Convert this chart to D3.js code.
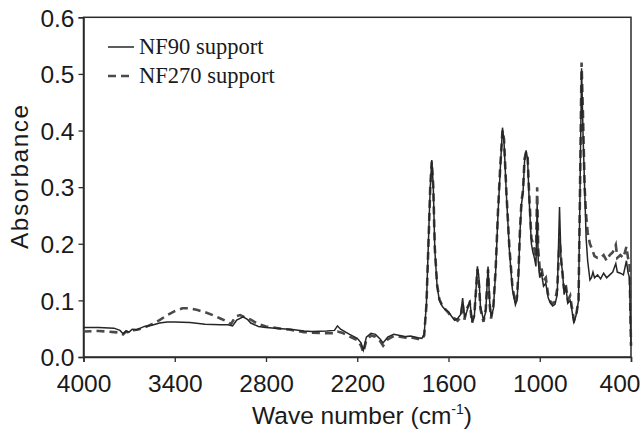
<!DOCTYPE html>
<html><head><meta charset="utf-8">
<script src="https://cdn.jsdelivr.net/npm/d3@7"></script>
<style>body{margin:0;background:#fff}</style>
</head><body>
<svg id="c" width="643" height="432"></svg>
<script>
const xTicks = [4000, 3400, 2800, 2200, 1600, 1000, 400];
const yTicks = [0, 0.1, 0.2, 0.3, 0.4, 0.5, 0.6];
const seriesNames = ["NF90 support", "NF270 support"];

const nf90Wn = [4000,3900,3800,3760,3740,3720,3700,3680,3650,3600,3550,3500,3450,3400,3300,3200,3100,3050,3020,2993,2950,2920,2900,2850,2800,2700,2640,2550,2500,2400,2350,2330,2310,2250,2200,2175,2160,2140,2110,2080,2050,2030,2000,1960,1920,1880,1850,1800,1775,1760,1745,1730,1720,1710,1700,1690,1675,1660,1640,1620,1600,1580,1560,1540,1520,1507,1495,1480,1460,1445,1430,1410,1400,1390,1370,1355,1340,1330,1320,1305,1290,1275,1260,1245,1235,1220,1200,1180,1160,1150,1140,1130,1120,1110,1100,1090,1080,1070,1055,1045,1035,1025,1017,1010,1000,990,975,960,945,930,915,900,885,870,860,850,840,830,815,800,790,775,760,745,735,725,715,705,695,685,670,660,650,640,620,600,580,560,540,520,500,490,470,450,430,420,410,400];
const nf90Abs = [0.052,0.052,0.051,0.047,0.041,0.046,0.044,0.049,0.048,0.054,0.056,0.060,0.062,0.062,0.061,0.058,0.057,0.057,0.055,0.065,0.071,0.066,0.060,0.054,0.052,0.050,0.049,0.046,0.045,0.046,0.047,0.055,0.049,0.040,0.033,0.025,0.012,0.035,0.042,0.040,0.032,0.025,0.035,0.040,0.038,0.036,0.037,0.034,0.033,0.040,0.095,0.220,0.300,0.348,0.300,0.190,0.125,0.100,0.089,0.083,0.080,0.072,0.065,0.068,0.075,0.104,0.070,0.080,0.100,0.062,0.072,0.160,0.140,0.090,0.065,0.080,0.160,0.100,0.071,0.085,0.150,0.250,0.330,0.405,0.380,0.290,0.190,0.120,0.092,0.100,0.140,0.220,0.270,0.290,0.345,0.365,0.350,0.280,0.200,0.185,0.175,0.160,0.270,0.170,0.140,0.150,0.125,0.130,0.105,0.095,0.090,0.093,0.110,0.265,0.170,0.150,0.110,0.125,0.095,0.100,0.085,0.060,0.075,0.100,0.300,0.510,0.390,0.300,0.210,0.170,0.136,0.140,0.150,0.140,0.145,0.138,0.148,0.140,0.145,0.150,0.165,0.150,0.148,0.145,0.170,0.150,0.140,0.020];

const nf270Wn = [4000,3900,3800,3760,3740,3720,3700,3680,3650,3600,3550,3500,3450,3400,3350,3300,3250,3200,3150,3100,3050,3030,3000,2970,2940,2900,2850,2800,2700,2640,2550,2500,2400,2350,2330,2300,2250,2200,2175,2160,2140,2110,2080,2050,2030,2000,1960,1920,1880,1850,1800,1775,1760,1745,1730,1720,1710,1700,1690,1675,1660,1640,1620,1600,1580,1560,1540,1520,1507,1495,1480,1460,1445,1430,1410,1400,1390,1370,1355,1340,1330,1320,1305,1290,1275,1260,1245,1235,1220,1200,1180,1160,1150,1140,1130,1120,1110,1100,1090,1080,1070,1055,1045,1035,1025,1017,1010,1000,990,975,960,945,930,915,900,885,870,860,850,840,830,815,800,790,775,760,745,735,725,715,705,695,685,670,655,640,620,600,580,560,540,520,500,490,470,450,430,420,410,400];
const nf270Abs = [0.045,0.046,0.044,0.043,0.040,0.045,0.043,0.047,0.048,0.052,0.058,0.065,0.074,0.081,0.086,0.086,0.083,0.079,0.074,0.068,0.062,0.058,0.072,0.074,0.070,0.066,0.058,0.054,0.050,0.048,0.044,0.043,0.042,0.042,0.045,0.043,0.036,0.030,0.020,0.008,0.030,0.038,0.036,0.028,0.020,0.031,0.037,0.036,0.034,0.035,0.032,0.031,0.038,0.092,0.215,0.300,0.345,0.300,0.192,0.128,0.102,0.090,0.084,0.078,0.070,0.068,0.064,0.070,0.095,0.066,0.085,0.095,0.060,0.075,0.155,0.130,0.085,0.062,0.085,0.155,0.095,0.068,0.090,0.155,0.255,0.335,0.400,0.385,0.295,0.195,0.125,0.095,0.105,0.150,0.225,0.275,0.295,0.350,0.362,0.355,0.290,0.210,0.200,0.190,0.175,0.300,0.190,0.155,0.160,0.135,0.140,0.110,0.098,0.094,0.098,0.120,0.210,0.175,0.145,0.120,0.130,0.100,0.108,0.090,0.065,0.075,0.100,0.300,0.520,0.420,0.300,0.250,0.220,0.200,0.190,0.178,0.175,0.175,0.180,0.170,0.180,0.185,0.198,0.175,0.180,0.175,0.195,0.175,0.170,0.020];

const svg = d3.select("#c");
const L = 83.5, R = 631, T = 17.3, B = 357;
const x = d3.scaleLinear().domain([4000, 400]).range([L, R]);
const y = d3.scaleLinear().domain([0, 0.6]).range([B, T]);
const ink = "#2b2b2b";
const sans = "'Liberation Sans', Arial, sans-serif";

// frame
svg.append("rect").attr("x", L).attr("y", T).attr("width", R - L).attr("height", B - T)
  .attr("fill", "none").attr("stroke", ink).attr("stroke-width", 1.5);

const xAxis = svg.append("g").attr("transform", `translate(0,${B})`)
  .call(d3.axisBottom(x).tickValues(xTicks).tickSize(5).tickPadding(13).tickFormat(d3.format("d")));
const yAxis = svg.append("g").attr("transform", `translate(${L},0)`)
  .call(d3.axisLeft(y).tickValues(yTicks).tickSize(5).tickPadding(4).tickFormat(d3.format(".1f")));
[xAxis, yAxis].forEach(g => {
  g.select(".domain").attr("stroke", ink).attr("stroke-width", 1.5);
  g.selectAll(".tick line").attr("stroke", ink).attr("stroke-width", 1.3);
  g.selectAll(".tick text").attr("fill", "#1a1a1a")
    .style("font-family", sans).style("font-size", "24.5px");
});
yAxis.selectAll(".tick text").attr("dy", "0.36em");
// last x label kept inside the canvas
xAxis.selectAll(".tick").filter(d => d === 400).select("text")
  .attr("text-anchor", "end").attr("x", 9);

// axis titles
const xt = svg.append("text").attr("x", 362).attr("y", 424).attr("text-anchor", "middle")
  .attr("fill", "#1a1a1a").style("font-family", sans).style("font-size", "24.5px");
xt.append("tspan").text("Wave number (cm");
xt.append("tspan").attr("dy", -10).style("font-size", "14px").text("-1");
xt.append("tspan").attr("dy", 10).text(")");
svg.append("text").attr("transform", `translate(28,${(T + B) / 2 - 11}) rotate(-90)`).attr("text-anchor", "middle")
  .attr("fill", "#1a1a1a").style("font-family", sans).style("font-size", "24.5px")
  .style("letter-spacing", "1.5px")
  .text("Absorbance");

// lines
const line = d3.line().x(d => x(d[0])).y(d => y(d[1]));
const d90 = nf90Wn.map((w, i) => [w, nf90Abs[i]]);
const d270 = nf270Wn.map((w, i) => [w, nf270Abs[i]]);
svg.append("path").datum(d270).attr("d", line).attr("fill", "none")
  .attr("stroke", "#4a4a4a").attr("stroke-width", 2.6).attr("stroke-dasharray", "8,5");
svg.append("path").datum(d90).attr("d", line).attr("fill", "none")
  .attr("stroke", "#262626").attr("stroke-width", 1.5);

// legend
const lg = svg.append("g");
const items = [{dash: null, w: 1.5, c: "#262626"}, {dash: "8,5", w: 2.6, c: "#4a4a4a"}];
items.forEach((it, i) => {
  const yy = 47 + i * 29;
  lg.append("line").attr("x1", 108).attr("x2", 134).attr("y1", yy).attr("y2", yy)
    .attr("stroke", it.c).attr("stroke-width", it.w).attr("stroke-dasharray", it.dash);
  lg.append("text").attr("x", 139).attr("y", yy + 7).attr("fill", "#1a1a1a")
    .style("font-family", "'Liberation Serif', 'Times New Roman', serif").style("font-size", "22.5px")
    .text(seriesNames[i]);
});
</script>
</body></html>
